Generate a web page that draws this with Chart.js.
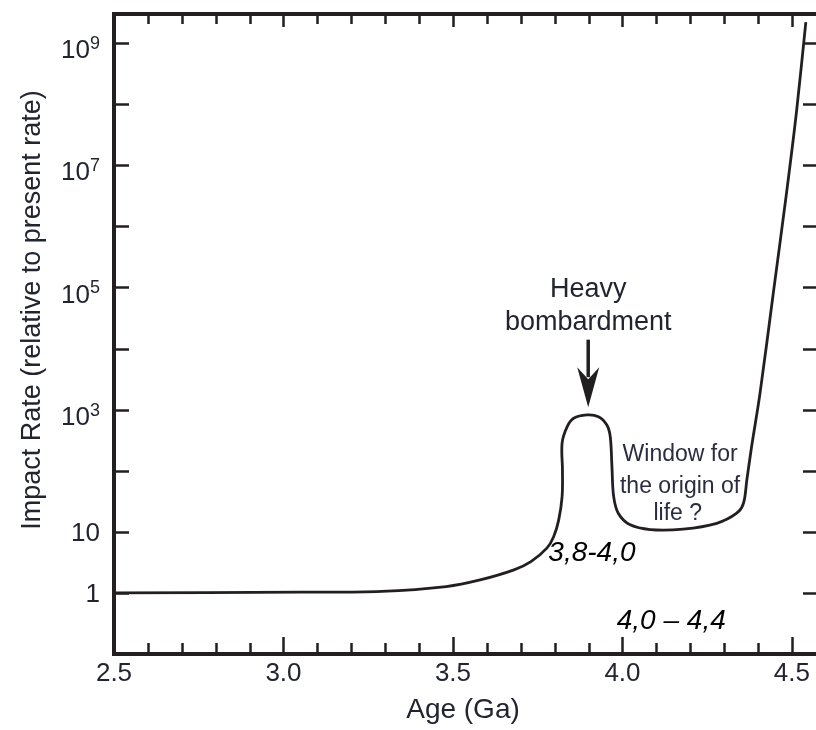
<!DOCTYPE html>
<html>
<head>
<meta charset="utf-8">
<script src="https://cdn.jsdelivr.net/npm/chart.js@4.4.0/dist/chart.umd.min.js"></script>
<style>
  html, body { margin: 0; padding: 0; background: #fff; }
  #wrap { width: 816px; height: 730px; position: relative; }
</style>
</head>
<body>
<div id="wrap"><canvas id="impactChart"></canvas></div>
<script>
// values (age in Ga, impact rate relative to present)
const ageGa = [2.50, 3.05, 3.29, 3.48, 3.58, 3.68, 3.73, 3.777, 3.797, 3.812, 3.822, 3.823, 3.822,
  3.837, 3.856, 3.895, 3.929, 3.954, 3.964, 3.969, 3.974, 3.988, 4.023, 4.082, 4.179, 4.278,
  4.337, 4.357, 4.367, 4.381, 4.406, 4.445, 4.484, 4.514, 4.541];
const impactRate = [1.0, 1.03, 1.06, 1.27, 1.63, 2.38, 3.25, 5.4, 8.3, 15.7, 38, 103, 285,
  527, 723, 819, 768, 562, 361, 117, 38, 20, 13, 10.9, 11.1, 13.8,
  20.2, 29.4, 71, 248, 1880, 8.1e4, 3.5e6, 8.0e7, 2.2e9];

const xMajorTicks = [2.5, 3.0, 3.5, 4.0, 4.5];
const xTickLabels = ['2.5', '3.0', '3.5', '4.0', '4.5'];
const xMinorTicks = [2.6, 2.7, 2.8, 2.9, 3.1, 3.2, 3.3, 3.4, 3.6, 3.7, 3.8, 3.9, 4.1, 4.2, 4.3, 4.4];
const yTickValues = [1, 10, 1e2, 1e3, 1e4, 1e5, 1e6, 1e7, 1e8, 1e9];
const yLabelValues = [1, 10, 1e3, 1e5, 1e7, 1e9];
const yLabelBase = ['1', '10', '10', '10', '10', '10'];
const yLabelExp = ['', '', '3', '5', '7', '9'];

// text notes placed in data coordinates
const notes = [
  { text: 'Heavy', x: 3.899, y: 9.4e4, font: '27px "Liberation Sans"', color: '#222430' },
  { text: 'bombardment', x: 3.899, y: 2.7e4, font: '27px "Liberation Sans"', color: '#222430' },
  { text: 'Window for', x: 4.17, y: 181, font: '23px "Liberation Sans"', color: '#2a2d40' },
  { text: 'the origin of', x: 4.17, y: 54, font: '23px "Liberation Sans"', color: '#2a2d40' },
  { text: 'life ?', x: 4.163, y: 19.6, font: '23px "Liberation Sans"', color: '#2a2d40' },
  { text: '3,8-4,0', x: 3.91, y: 4.5, font: 'italic 28px "Liberation Sans"', color: '#000' },
  { text: '4,0 \u2013 4,4', x: 4.144, y: 0.35, font: 'italic 28px "Liberation Sans"', color: '#000' }
];

const ink = '#231f20';

const framePlugin = {
  id: 'frame',
  afterDraw(chart) {
    const ctx = chart.ctx;
    const a = chart.chartArea;
    const x = chart.scales.x;
    const y = chart.scales.y;
    const W = chart.width;
    ctx.save();
    ctx.strokeStyle = ink;
    ctx.lineCap = 'butt';

    // ticks
    ctx.lineWidth = 2.5;
    ctx.beginPath();
    yTickValues.forEach(v => {
      const py = Math.round(y.getPixelForValue(v)) + 0.5;
      ctx.moveTo(a.left, py); ctx.lineTo(a.left + 15, py);
      ctx.moveTo(W - 13, py); ctx.lineTo(W, py);
    });
    xMinorTicks.forEach(v => {
      const px = Math.round(x.getPixelForValue(v)) + 0.5;
      ctx.moveTo(px, a.bottom); ctx.lineTo(px, a.bottom - 11);
      ctx.moveTo(px, a.top); ctx.lineTo(px, a.top + 10);
    });
    xMajorTicks.forEach(v => {
      const px = Math.round(x.getPixelForValue(v)) + 0.5;
      ctx.moveTo(px, a.bottom); ctx.lineTo(px, a.bottom - 17);
      ctx.moveTo(px, a.top); ctx.lineTo(px, a.top + 13);
    });
    ctx.stroke();

    // frame
    ctx.lineWidth = 4;
    ctx.beginPath();
    ctx.moveTo(a.left, a.bottom + 2); ctx.lineTo(a.left, a.top);
    ctx.moveTo(a.left - 2, a.top); ctx.lineTo(W, a.top);
    ctx.moveTo(a.left - 2, a.bottom); ctx.lineTo(W, a.bottom);
    ctx.stroke();

    // tick labels
    ctx.fillStyle = '#222430';
    ctx.font = '26px "Liberation Sans"';
    ctx.textAlign = 'center';
    ctx.textBaseline = 'middle';
    xMajorTicks.forEach((v, i) => {
      ctx.fillText(xTickLabels[i], x.getPixelForValue(v), a.bottom + 20);
    });

    ctx.textAlign = 'right';
    yLabelValues.forEach((v, i) => {
      const py = y.getPixelForValue(v);
      const right = a.left - 14;
      if (yLabelExp[i]) {
        ctx.font = '18px "Liberation Sans"';
        const ew = ctx.measureText(yLabelExp[i]).width;
        ctx.fillText(yLabelExp[i], right, py + 1);
        ctx.font = '26px "Liberation Sans"';
        ctx.fillText(yLabelBase[i], right - ew, py + 8);
      } else {
        ctx.font = '26px "Liberation Sans"';
        ctx.fillText(yLabelBase[i], right, py + 2);
      }
    });

    // axis titles
    ctx.font = '28px "Liberation Sans"';
    ctx.textAlign = 'center';
    ctx.fillText('Age (Ga)', (a.left + 812) / 2, a.bottom + 56);
    ctx.font = '27px "Liberation Sans"';
    ctx.save();
    ctx.translate(33, 310);
    ctx.rotate(-Math.PI / 2);
    ctx.fillText('Impact Rate (relative to present rate)', 0, 0);
    ctx.restore();

    // notes
    notes.forEach(n => {
      ctx.font = n.font;
      ctx.fillStyle = n.color;
      ctx.fillText(n.text, x.getPixelForValue(n.x), y.getPixelForValue(n.y));
    });

    // arrow to the peak
    const ax = x.getPixelForValue(3.899);
    const top = y.getPixelForValue(1.4e4);
    const tip = y.getPixelForValue(1100);
    ctx.lineWidth = 3.5;
    ctx.beginPath();
    ctx.moveTo(ax, top); ctx.lineTo(ax, tip - 30);
    ctx.stroke();
    ctx.fillStyle = ink;
    ctx.beginPath();
    ctx.moveTo(ax - 11, tip - 40);
    ctx.lineTo(ax, tip - 28);
    ctx.lineTo(ax + 11, tip - 40);
    ctx.lineTo(ax, tip);
    ctx.closePath();
    ctx.fill();
    ctx.restore();
  }
};

new Chart(document.getElementById('impactChart'), {
  type: 'line',
  data: {
    datasets: [{
      data: ageGa.map((a, i) => ({ x: a, y: impactRate[i] })),
      borderColor: ink,
      borderWidth: 2.8,
      pointRadius: 0,
      tension: 0.35,
      fill: false
    }]
  },
  options: {
    responsive: true,
    maintainAspectRatio: false,
    animation: false,
    layout: { padding: { left: 114, top: 14, right: 0, bottom: 76 } },
    plugins: { legend: { display: false }, tooltip: { enabled: false } },
    scales: {
      x: { type: 'linear', display: false, min: 2.5, max: 4.571 },
      y: { type: 'logarithmic', display: false, min: 0.1, max: 3e9 }
    }
  },
  plugins: [framePlugin]
});
</script>
</body>
</html>
